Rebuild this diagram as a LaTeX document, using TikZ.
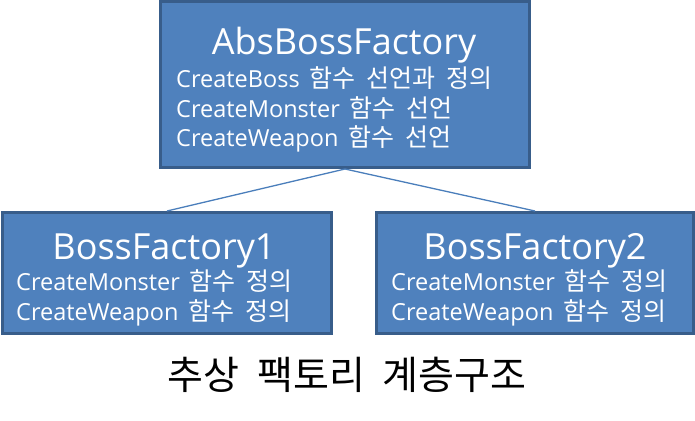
\documentclass[tikz,border=0pt]{standalone}
\usepackage{fontspec}
\setmainfont[WordSpace=1.6]{Open Sans}
\newfontfamily\kr[Scale=1.064,WordSpace=2.0]{Noto Sans CJK KR}
\definecolor{boxfill}{HTML}{4F81BD}
\definecolor{boxline}{HTML}{385D8A}
\definecolor{conn}{HTML}{4A7EBB}
\begin{document}
\begin{tikzpicture}[x=1pt,y=-1pt,
  classbox/.style={draw=boxline,fill=boxfill,line width=3pt,inner sep=0pt},
  titletext/.style={anchor=base,text=white,inner sep=0pt,font=\fontsize{36}{36}\selectfont},
  bodytext/.style={anchor=base west,text=white,inner sep=0pt,font=\fontsize{23.5}{23.5}\selectfont},
  connector/.style={draw=conn,line width=1.3pt}]
\useasboundingbox (0,0) rectangle (695,420);
\node[classbox,minimum width=369pt,minimum height=166pt] (abs) at (345,84.5) {};
\node[classbox,minimum width=329pt,minimum height=121pt] (bf1) at (167,273) {};
\node[classbox,minimum width=317pt,minimum height=121pt] (bf2) at (535,273) {};
\draw[connector] (abs.south) -- (bf1.north);
\draw[connector] (abs.south) -- (bf2.north);
\node[titletext] (absT) at (344,55) {AbsBossFactory};
\node[bodytext] (abs1) at (176,87) {CreateBoss {\kr 함수 선언과 정의}};
\node[bodytext] (abs2) at (176,117) {CreateMonster {\kr 함수 선언}};
\node[bodytext] (abs3) at (176,146) {CreateWeapon {\kr 함수 선언}};
\node[titletext] (bf1T) at (164,259) {BossFactory1};
\node[bodytext] (bf1a) at (16,290) {CreateMonster {\kr 함수 정의}};
\node[bodytext] (bf1b) at (16,320) {CreateWeapon {\kr 함수 정의}};
\node[titletext] (bf2T) at (535,259) {BossFactory2};
\node[bodytext] (bf2a) at (391,290) {CreateMonster {\kr 함수 정의}};
\node[bodytext] (bf2b) at (391,320) {CreateWeapon {\kr 함수 정의}};
\node[anchor=base,inner sep=0pt,font=\kr\fontsize{36.7}{36.7}\selectfont] (cap) at (347,389) {추상 팩토리 계층구조};
\end{tikzpicture}
\end{document}
